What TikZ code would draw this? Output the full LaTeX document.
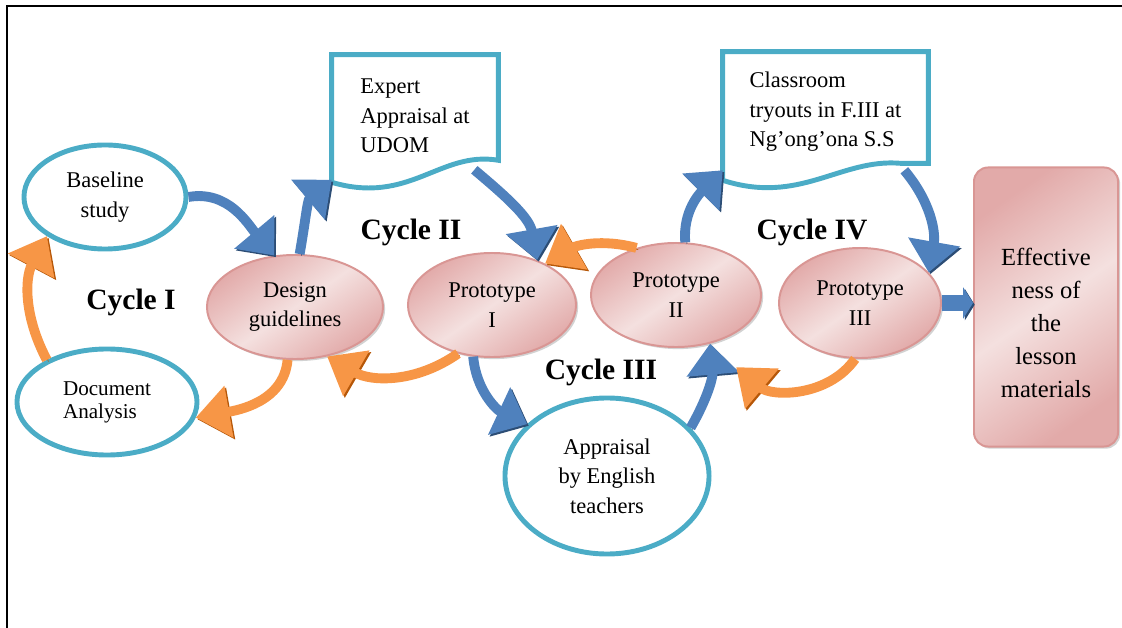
\documentclass[tikz,border=0pt]{standalone}
\usepackage{fontspec}
\setmainfont{Liberation Serif}
\usetikzlibrary{shapes,arrows.meta,shadows,calc,positioning}

\definecolor{cyanline}{HTML}{4BACC6}
\definecolor{pinkedge}{HTML}{D99694}
\definecolor{pinkdark}{HTML}{E2AAA9}
\definecolor{pinklight}{HTML}{F4E0DF}
\definecolor{arrowblue}{HTML}{4F81BD}
\definecolor{blueshade}{HTML}{2C4D75}
\definecolor{arroworange}{HTML}{F79646}
\definecolor{orangeshade}{HTML}{B65708}

\tikzset{
  sourcenode/.style={ellipse,draw=cyanline,line width=3.5pt,fill=white,inner sep=0pt,align=center,font=\fontsize{16}{21}\selectfont},
  protonode/.style={ellipse,draw=pinkedge,line width=1.4pt,top color=pinkdark,bottom color=pinkdark,middle color=pinklight,shading angle=35,drop shadow={shadow xshift=1.5pt,shadow yshift=-1.5pt,fill=black!35},inner sep=0pt,align=center,font=\fontsize{16}{21}\selectfont},
  docnode/.style={rectangle,inner sep=0pt,align=left,font=\fontsize{16}{21}\selectfont},
  docoutline/.style={draw=cyanline,line width=3.5pt,line join=miter},
  cyclelabel/.style={font=\fontsize{21}{25}\selectfont\bfseries},
  bluearrow/.style={draw=arrowblue,line width=7pt,-{Triangle[width=36pt,length=22pt]},preaction={draw=blueshade,transform canvas={xshift=1.2pt,yshift=-1.2pt}}},
  orangearrow/.style={draw=arroworange,line width=7pt,-{Triangle[width=36pt,length=24pt]},preaction={draw=orangeshade,transform canvas={xshift=1.2pt,yshift=-1.2pt}}}
}

\begin{document}
\begin{tikzpicture}[x=0.025cm,y=-0.025cm]
\useasboundingbox (0,0) rectangle (1122,628);
\draw[line width=2pt,line join=miter] (7,628) -- (7,6) -- (1122,6);

% first cycle
\node[sourcenode,minimum width=4.05cm,minimum height=2.6cm] (baseline) at (105,197) {Baseline\\study};
\node[sourcenode,minimum width=4.5cm,minimum height=2.65cm,align=left,font=\fontsize{15}{16.5}\selectfont] (docanalysis) at (107,402) {Document\\Analysis};
\node[protonode,minimum width=4.4cm,minimum height=2.6cm] (design) at (295,307) {Design\\guidelines};
\node[cyclelabel] (cycle1) at (131,302) {Cycle I};

% prototypes
\node[protonode,minimum width=4.2cm,minimum height=2.6cm] (proto1) at (492,305) {Prototype\\I};
\node[protonode,minimum width=4.25cm,minimum height=2.6cm] (proto2) at (676,295) {Prototype\\II};
\node[protonode,minimum width=4.05cm,minimum height=2.75cm] (proto3) at (860,303) {Prototype\\III};
\node[sourcenode,minimum width=5.1cm,minimum height=3.9cm] (appraisal) at (607,476) {Appraisal\\by English\\teachers};

% appraisal and tryout documents
\node[docnode,minimum width=4.15cm,minimum height=3.175cm] (expert) at (415,116) {Expert\\Appraisal at\\UDOM};
\draw[docoutline] ($(expert.north west)+(0,2.5)$) -- ($(expert.north east)+(0,2.5)$) -- ($(expert.south east)+(0,-19.5)$)
  .. controls ($(expert.south east)+(-58,-29.5)$) and ($(expert.south west)+(78,25.5)$) .. ($(expert.south west)+(0,2.5)$) -- cycle;
\node[docnode,minimum width=5.125cm,minimum height=3.2cm] (tryouts) at (825.5,112) {Classroom\\tryouts in F.III at\\Ng’ong’ona S.S};
\draw[docoutline] ($(tryouts.north west)+(0,4)$) -- ($(tryouts.north east)+(0,4)$) -- ($(tryouts.south east)+(0,-13)$) -- ($(tryouts.south east)+(-28,-13)$)
  .. controls ($(tryouts.south east)+(-88,-18)$) and ($(tryouts.south west)+(77,29)$) .. ($(tryouts.south west)+(0,4)$) -- cycle;

\node[protonode,rectangle,rounded corners=10pt,minimum width=3.6cm,minimum height=6.975cm] (effective) at (1046,307) {};
\node[align=center,font=\fontsize{17.5}{23.4}\selectfont] (efftext) at (1046,323) {Effective\\ness of\\the\\lesson\\materials};

\node[cyclelabel] (cycle2) at (411,232) {Cycle II};
\node[cyclelabel] (cycle3) at (601,372) {Cycle III};
\node[cyclelabel] (cycle4) at (812,232) {Cycle IV};

% cycle I
\draw[orangearrow] (docanalysis.145) to[out=118,in=242] (baseline.214);
\draw[orangearrow] (design.262) to[out=265,in=10] (docanalysis.350);
% cycle II
\draw[bluearrow] (baseline.east) to[out=10,in=130] (design.112);
\draw[bluearrow] (design.85) to[out=80,in=220] (expert.south west);
\draw[bluearrow] ($(expert.south east)+(-24,-10)$) to[out=-40,in=100] (proto1.45);
\draw[orangearrow] (proto2.130) to[out=165,in=30] (proto1.38);
% cycle III
\draw[orangearrow] (proto1.235) to[out=215,in=330] (design.303);
\draw[bluearrow] (proto1.250) to[out=275,in=155] (appraisal.147);
\draw[bluearrow] (appraisal.30) to[out=60,in=275] (proto2.305);
\draw[orangearrow] (proto3.265) to[out=235,in=320] ($(proto2.315)+(15,27)$);
% cycle IV
\draw[bluearrow] (proto2.80) to[out=95,in=225] ($(tryouts.south west)+(0,-6)$);
\draw[bluearrow] ($(tryouts.south east)+(-24,-6)$) to[out=-50,in=80] (proto3.24);
\draw[bluearrow,line width=12pt,-{Triangle[width=22pt,length=7pt]}] (proto3.east) -- (proto3.east -| effective.west);
\end{tikzpicture}
\end{document}
